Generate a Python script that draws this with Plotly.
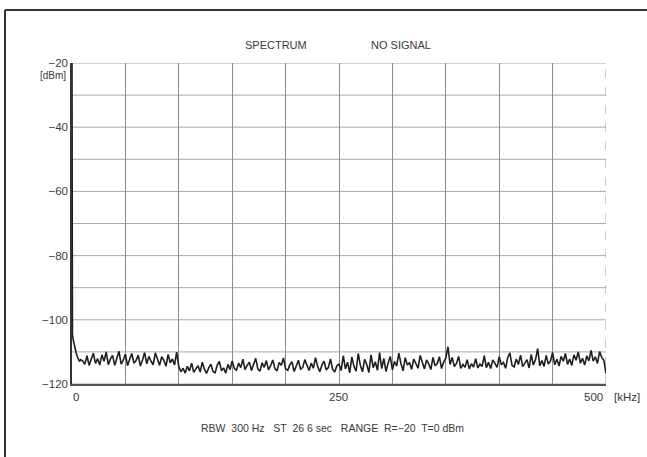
import plotly.graph_objects as go

# ---- data ----
freq_start = [0, 0, 0.4, 1, 2, 3, 4, 5, 6, 7, 8]
level_start = [-20, -103, -104.5, -106, -107.8, -109.3, -110.4, -111.5, -112.2, -113.0, -112.4]

level_10_98 = [
    -112.8, -113.9, -111.2, -114.2, -112.4, -110.4, -113.6, -112.1, -114.1, -110.9,
    -112.9, -110.0, -114.0, -112.2, -111.1, -114.2, -112.0, -109.8, -113.8, -112.6,
    -110.7, -114.3, -112.3, -110.5, -113.5, -112.7, -111.0, -114.4, -112.5, -110.2,
    -113.7, -111.4, -112.9, -114.0, -110.3, -112.4, -114.2, -111.5, -112.6, -114.5,
    -110.8, -113.4, -112.2, -114.1, -110.1]
level_100_148 = [
    -114.6, -116.2, -115.1, -116.6, -114.5, -115.9, -113.5, -116.4, -115.3, -114.3,
    -116.3, -113.2, -115.4, -116.7, -115.0, -113.8, -116.1, -116.5, -114.1, -113.0,
    -115.9, -115.0, -116.6, -113.9, -115.5]
level_150_248 = [
    -112.8, -115.2, -115.7, -113.5, -114.9, -112.3, -115.5, -114.2, -113.2, -115.8,
    -114.0, -112.0, -115.3, -116.0, -113.4, -114.8, -112.7, -115.6, -114.3, -112.5,
    -115.2, -115.9, -113.3, -114.2, -111.9, -115.3, -115.7, -114.0, -113.1, -116.1,
    -114.4, -112.6, -115.4, -114.9, -112.4, -114.1, -115.8, -113.5, -115.1, -111.8,
    -114.5, -116.2, -114.1, -112.9, -115.6, -114.9, -112.2, -115.4, -116.3, -114.3]
level_250_348 = [
    -113.8, -115.8, -111.2, -115.3, -113.2, -116.5, -111.6, -114.5, -116.0, -110.5,
    -114.2, -116.2, -112.3, -113.9, -116.4, -110.9, -114.9, -113.1, -115.7, -110.2,
    -115.2, -112.0, -116.1, -113.5, -111.4, -115.6, -113.0, -114.4, -110.4, -113.6,
    -115.9, -111.8, -114.1, -113.3, -115.4, -112.2, -113.9, -115.1, -111.1, -113.4,
    -115.3, -112.5, -113.7, -115.5, -111.7, -114.3, -113.6, -111.5, -115.2, -113.2]
level_350_500 = [
    -112.0, -108.4, -113.9, -111.7, -114.6, -113.6, -111.4, -115.1, -113.9, -114.8,
    -112.4, -115.3, -113.7, -114.7, -112.1, -115.0, -113.8, -114.5, -111.2, -114.9,
    -113.2, -115.2, -112.5, -113.6, -114.8, -111.5, -114.0, -113.3, -115.1, -111.8,
    -110.3, -114.2, -114.7, -112.2, -113.9, -111.0, -114.6, -113.5, -112.4, -115.0,
    -110.8, -114.1, -112.4, -109.0, -114.3, -112.7, -114.5, -111.1, -113.8, -112.9,
    -110.2, -114.0, -112.3, -114.4, -111.4, -112.9, -110.5, -113.9, -112.2, -114.2,
    -110.9, -112.6, -110.0, -113.5, -112.0, -114.1, -111.2, -112.8, -109.5, -112.9,
    -111.5, -113.6, -109.9, -111.7, -112.6, -116.8]

freq_noise = list(range(10, 501, 2))
level_noise = level_10_98 + level_100_148 + level_150_248 + level_250_348 + level_350_500

freq = freq_start + freq_noise
level = level_start + level_noise

x_grid = list(range(0, 501, 50))
y_grid = list(range(-120, -19, 10))
y_tick_vals = [-20, -40, -60, -80, -100, -120]
y_tick_text = ["\u221220", "\u221240", "\u221260", "\u221280", "\u2212100", "\u2212120"]

# ---- layout geometry (pixels) ----
W, H = 647, 457
PL, PR, PT, PB = 72, 606, 63, 384


def px(x):
    return (x - PL) / (PR - PL)


def py(y):
    return (PB - y) / (PB - PT)


FONT = "Liberation Sans, Arial, sans-serif"
TXT = "#3a3a3a"

fig = go.Figure()
fig.add_trace(go.Scatter(x=freq, y=level, mode="lines",
                         line=dict(color="#1e1e1e", width=1.6),
                         hoverinfo="skip", showlegend=False))

fig.update_layout(
    width=W, height=H,
    margin=dict(l=PL, r=W - PR, t=PT, b=H - PB, pad=0),
    paper_bgcolor="white", plot_bgcolor="white",
    font=dict(family=FONT, size=11, color=TXT),
    showlegend=False,
)
fig.update_xaxes(range=[0, 500], tickvals=x_grid, showticklabels=False,
                 showgrid=True, gridcolor="#8c8c8c", gridwidth=1,
                 zeroline=False, showline=True, linecolor="#555", linewidth=1.5,
                 mirror=False, ticks="", fixedrange=True)
fig.update_yaxes(range=[-120, -20], tickvals=y_tick_vals, ticktext=y_tick_text,
                 showgrid=False, zeroline=False, showline=True,
                 linecolor="#333", linewidth=1.5, ticks="",
                 tickfont=dict(family=FONT, size=11.5, color=TXT), fixedrange=True)

shapes = []
for v in y_grid:
    shapes.append(dict(type="line", xref="x", yref="y", x0=0, x1=500, y0=v, y1=v,
                       line=dict(color="#a8a8a8", width=1), layer="below"))
shapes.append(dict(type="line", xref="x", yref="y", x0=500, x1=500, y0=-120, y1=-20,
                   line=dict(color="#9a9a9a", width=1, dash="dash"), layer="below"))
shapes.append(dict(type="line", xref="paper", yref="paper",
                   x0=px(5), x1=px(W + 5), y0=py(10), y1=py(10),
                   line=dict(color="#333", width=2)))
shapes.append(dict(type="line", xref="paper", yref="paper",
                   x0=px(5), x1=px(5), y0=py(10), y1=py(H + 5),
                   line=dict(color="#333", width=2)))
fig.update_layout(shapes=shapes)


def label(text, x, y, xanchor="center", size=11.5):
    return dict(text=text, x=px(x), y=py(y), xref="paper", yref="paper",
                xanchor=xanchor, yanchor="middle", showarrow=False,
                font=dict(size=size, color=TXT))


ann = [
    label("SPECTRUM", 276, 45, size=11),
    label("NO SIGNAL", 401, 45, size=11),
    label("[dBm]", 68, 75, xanchor="right", size=10),
    label("0", 76, 397),
    label("250", 338, 397),
    label("500", 605, 397, xanchor="right"),
    label("[kHz]", 612, 397, xanchor="left"),
    label("RBW  300 Hz   ST  26 6 sec   RANGE  R=\u221220  T=0 dBm", 332, 428, size=10.5),
]
fig.update_layout(annotations=ann)

fig.write_html("out.html", config={"displayModeBar": False},
               post_script="document.body.style.margin='0px';")
